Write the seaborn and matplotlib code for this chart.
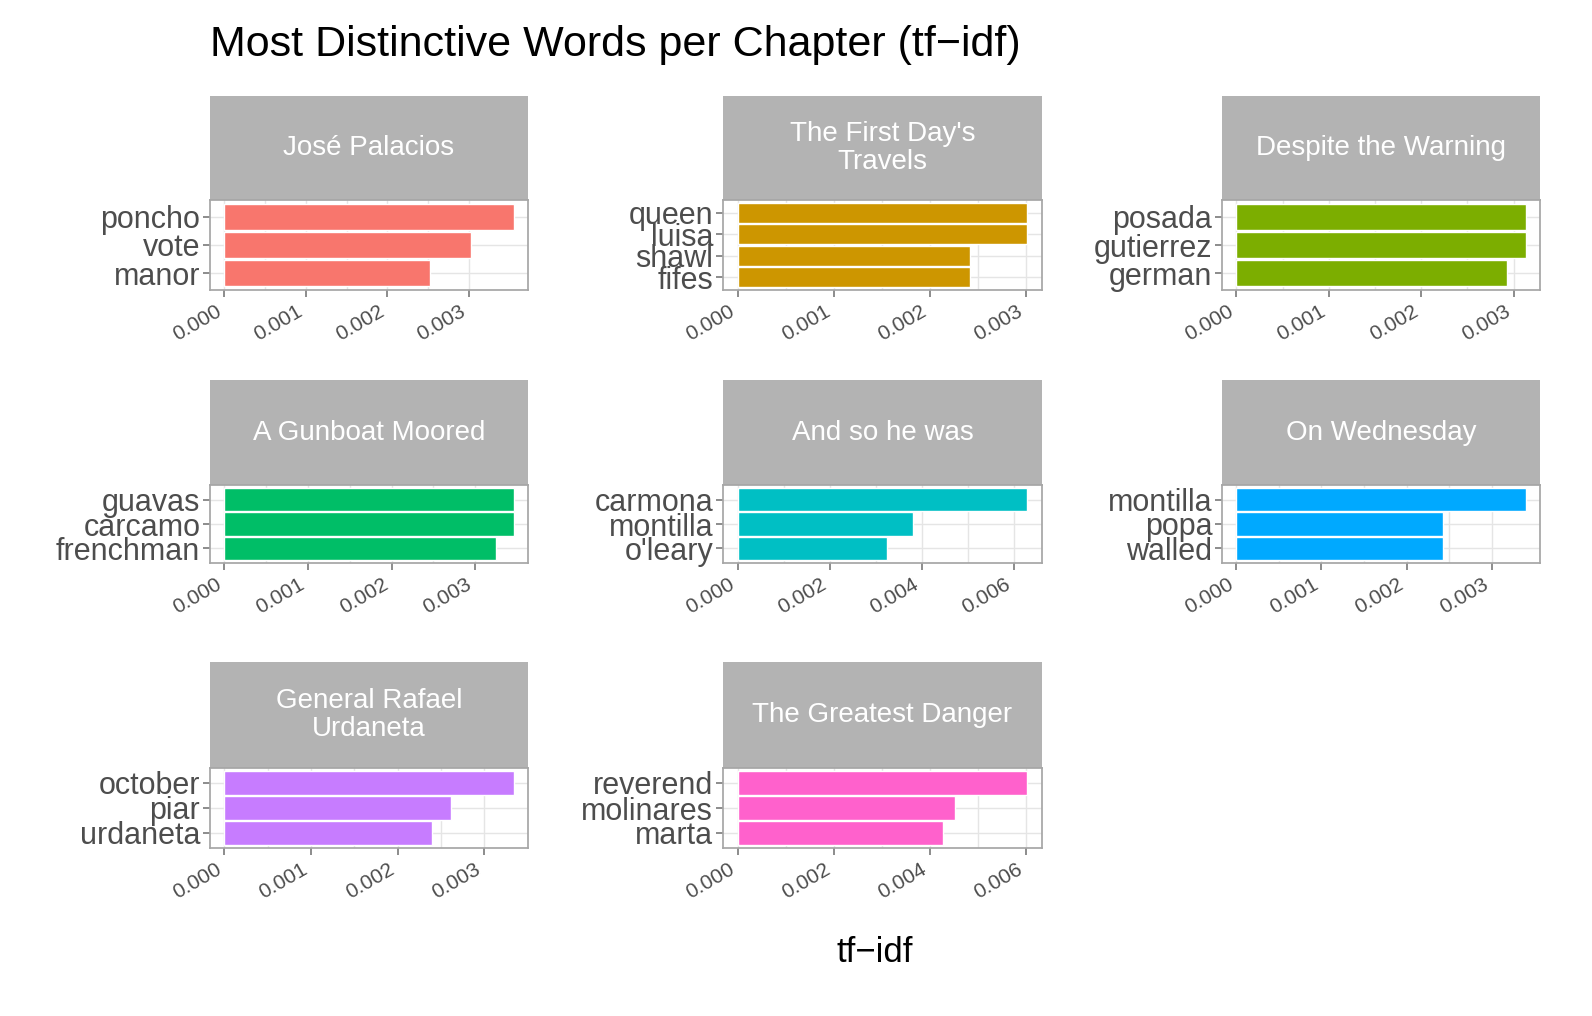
import numpy as np
import pandas as pd
import matplotlib
matplotlib.use('Agg')
import matplotlib.pyplot as plt
import seaborn as sns

sns.set_theme(style='white')
plt.rcParams['font.family'] = ['Liberation Sans', 'DejaVu Sans']

chapters = ["José Palacios", "The First Day's\nTravels", "Despite the Warning",
            "A Gunboat Moored", "And so he was", "On Wednesday",
            "General Rafael\nUrdaneta", "The Greatest Danger"]
words = [["poncho", "vote", "manor"],
         ["queen", "luisa", "shawl", "fifes"],
         ["posada", "gutierrez", "german"],
         ["guavas", "carcamo", "frenchman"],
         ["carmona", "montilla", "o'leary"],
         ["montilla", "popa", "walled"],
         ["october", "piar", "urdaneta"],
         ["reverend", "molinares", "marta"]]
tfidf = [[0.00355, 0.00303, 0.00253],
         [0.00302, 0.00302, 0.00242, 0.00242],
         [0.00313, 0.00313, 0.00293],
         [0.00346, 0.00346, 0.00325],
         [0.00630, 0.00381, 0.00325],
         [0.00340, 0.00243, 0.00243],
         [0.00334, 0.00262, 0.00240],
         [0.00604, 0.00453, 0.00427]]
colors = ["#F8766D", "#CD9600", "#7CAE00", "#00BE67", "#00BFC4", "#00A9FF", "#C77CFF", "#FF61CC"]

W, H = 1592, 1016
fig = plt.figure(figsize=(W / 100, H / 100), dpi=100)

col_x = [(210, 528), (723, 1042), (1222, 1540)]
row_y = [(96, 200, 290), (380, 485, 563), (662, 768, 848)]

def box(x0, x1, y0, y1):
    return [x0 / W, 1 - y1 / H, (x1 - x0) / W, (y1 - y0) / H]

for i, ch in enumerate(chapters):
    r, c = divmod(i, 3)
    x0, x1 = col_x[c]
    s0, s1, a1 = row_y[r]
    # strip
    sax = fig.add_axes(box(x0, x1, s0, s1))
    sax.set_facecolor('#B3B3B3')
    sax.set_xticks([]); sax.set_yticks([])
    for sp in sax.spines.values():
        sp.set_visible(False)
    sax.text(0.5, 0.5, ch, ha='center', va='center', color='white', fontsize=20,
             transform=sax.transAxes, linespacing=1.1, clip_on=True)
    # panel
    ax = fig.add_axes(box(x0, x1, s1, a1))
    df = pd.DataFrame({'word': words[i], 'tfidf': tfidf[i]})
    sns.barplot(data=df, x='tfidf', y='word', color=colors[i], orient='h',
                width=0.95, edgecolor='white', linewidth=1, saturation=1, ax=ax)
    m = max(tfidf[i])
    ax.set_xlim(-0.05 * m, 1.05 * m)
    n = len(words[i])
    ax.set_ylim(n - 1 + 0.6, -0.6)
    step = 0.002 if m > 0.005 else 0.001
    ticks = np.arange(0, m + 1e-9, step)
    ax.set_xticks(ticks)
    ax.set_xticklabels([f"{t:.3f}" for t in ticks], rotation=30, ha='right',
                       fontsize=15, color='#4D4D4D')
    ax.set_xticks(ticks[:-1] + step / 2, minor=True)
    ax.grid(True, which='both', axis='x', color='#E5E5E5', linewidth=1)
    ax.grid(True, axis='y', color='#E5E5E5', linewidth=1)
    ax.set_axisbelow(True)
    ax.tick_params(axis='y', labelsize=22, labelcolor='#4D4D4D', length=5, color='#7F7F7F', left=True, pad=2)
    ax.tick_params(axis='x', length=5, color='#7F7F7F', bottom=True)
    ax.tick_params(axis='x', which='minor', length=0)
    for sp in ax.spines.values():
        sp.set_color('#A6A6A6')
    ax.set_xlabel('')
    ax.set_ylabel('')

fig.text(210 / W, 1 - 45 / H, "Most Distinctive Words per Chapter (tf\u2212idf)",
         fontsize=31, va='center', ha='left', color='black')
fig.text(875 / W, 1 - 953 / H, "tf\u2212idf", fontsize=25, ha='center', va='center', color='black')

fig.savefig('out.png', dpi=100, facecolor='white')
